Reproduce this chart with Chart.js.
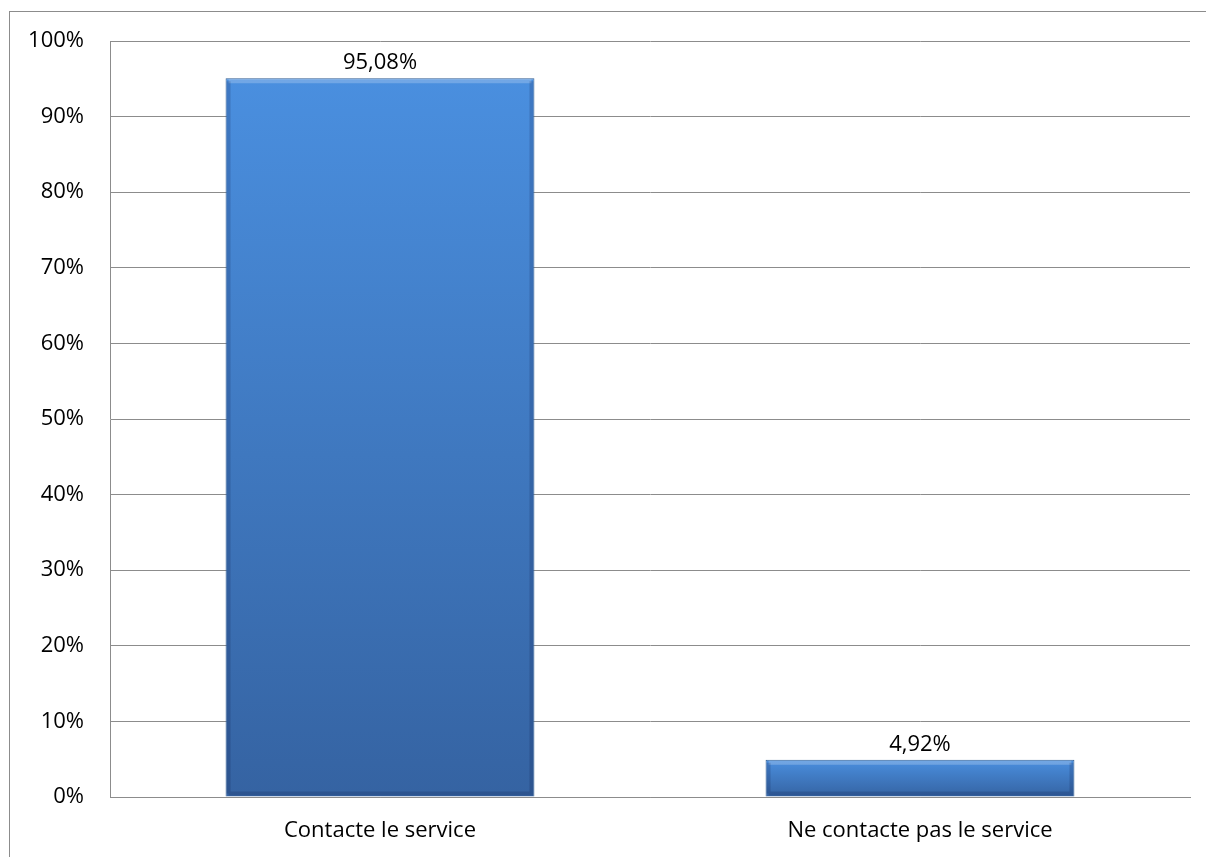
<!DOCTYPE html>
<html>
<head>
<meta charset="utf-8">
<script src="https://cdn.jsdelivr.net/npm/chart.js@4"></script>
<style>
    body { margin: 0; background: #fff; }
    #wrap { position: relative; width: 1206px; height: 857px; }
    #frame { position: absolute; left: 9px; top: 11px; right: -2px; bottom: -2px; border: 1px solid #8c8c8c; }
    canvas { position: absolute; left: 0; top: 0; }
</style>
</head>
<body>
<div id="wrap">
    <div id="frame"></div>
    <canvas id="chart" width="1206" height="857"></canvas>
</div>
<script>
const categories = ['Contacte le service', 'Ne contacte pas le service'];
const values = [95.08, 4.92];
const valueLabels = ['95,08%', '4,92%'];

const fontFamily = '"Open Sans", Lato, sans-serif';
const fontSize = 22;

function barGradient(context) {
    const chart = context.chart;
    if (!chart.chartArea || context.dataIndex === undefined) return '#4080cc';
    const y = chart.scales.y;
    const top = y.getPixelForValue(values[context.dataIndex]);
    const bottom = y.getPixelForValue(0);
    const g = chart.ctx.createLinearGradient(0, top, 0, bottom);
    g.addColorStop(0, '#4a8fdf');
    g.addColorStop(1, '#3563a2');
    return g;
}

// value labels above the bars
const valueLabelPlugin = {
    id: 'valueLabels',
    afterDatasetsDraw(chart) {
        const ctx = chart.ctx;
        const meta = chart.getDatasetMeta(0);
        ctx.save();
        ctx.font = fontSize + 'px ' + fontFamily;
        ctx.fillStyle = '#000';
        ctx.textAlign = 'center';
        ctx.textBaseline = 'middle';
        meta.data.forEach((bar, i) => {
            ctx.fillText(valueLabels[i], bar.x, bar.y - 15);
        });
        ctx.restore();
    }
};

// soft bevel on the bars
const bevelPlugin = {
    id: 'bevel',
    afterDatasetDraw(chart) {
        const ctx = chart.ctx;
        const meta = chart.getDatasetMeta(0);
        ctx.save();
        meta.data.forEach(bar => {
            const l = bar.x - bar.width / 2, r = bar.x + bar.width / 2;
            const t = bar.y, b = bar.base;
            ctx.lineWidth = 4;
            ctx.strokeStyle = 'rgba(255,255,255,0.22)';
            ctx.beginPath();
            ctx.moveTo(l + 3, t + 3);
            ctx.lineTo(r - 3, t + 3);
            ctx.stroke();
            ctx.strokeStyle = 'rgba(0,0,40,0.15)';
            ctx.beginPath();
            ctx.moveTo(l + 3, t + 3);
            ctx.lineTo(l + 3, b - 3);
            ctx.moveTo(r - 3, t + 3);
            ctx.lineTo(r - 3, b - 3);
            ctx.lineTo(l + 3, b - 3);
            ctx.stroke();
        });
        ctx.restore();
    }
};

new Chart(document.getElementById('chart'), {
    type: 'bar',
    data: {
        labels: categories,
        datasets: [{
            data: values,
            backgroundColor: barGradient,
            borderColor: '#2f5d93',
            borderWidth: 1,
            barPercentage: 0.572,
            categoryPercentage: 1
        }]
    },
    options: {
        responsive: false,
        animation: false,
        layout: { padding: { top: 41, right: 16, bottom: 0, left: 0 } },
        plugins: {
            legend: { display: false },
            tooltip: { enabled: false }
        },
        scales: {
            x: {
                grid: { display: false },
                border: { color: '#8c8c8c', width: 1 },
                ticks: {
                    color: '#000',
                    font: { family: fontFamily, size: fontSize },
                    padding: 13
                },
                afterFit(scale) { scale.height = 60; }
            },
            y: {
                min: 0,
                max: 100,
                grid: { color: '#8c8c8c', drawTicks: false },
                border: { color: '#8c8c8c', width: 1 },
                ticks: {
                    stepSize: 10,
                    color: '#000',
                    padding: 26,
                    font: { family: fontFamily, size: fontSize },
                    callback: v => v + '%'
                },
                afterFit(scale) { scale.width = 110; }
            }
        }
    },
    plugins: [valueLabelPlugin, bevelPlugin]
});
</script>
</body>
</html>
